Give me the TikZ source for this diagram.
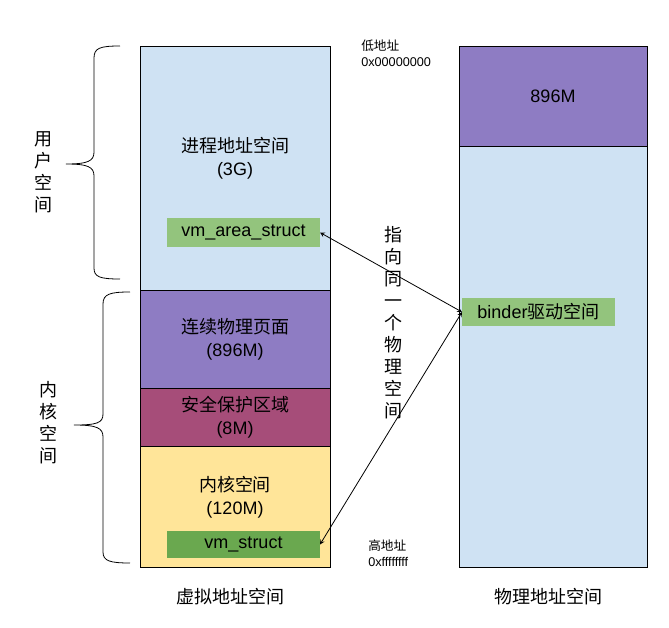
\documentclass[tikz,border=0pt]{standalone}
\usepackage{fontspec}
\setmainfont{Liberation Sans}
\newfontfamily\cjk{Noto Sans CJK SC}
\usetikzlibrary{positioning}
\definecolor{userblue}{HTML}{CFE2F3}
\definecolor{contpurple}{HTML}{8E7CC3}
\definecolor{safered}{HTML}{A64D79}
\definecolor{kernyellow}{HTML}{FFE599}
\definecolor{lightgreen}{HTML}{93C47D}
\definecolor{darkgreen}{HTML}{6AA84F}

\begin{document}
\begin{tikzpicture}[x=0.75pt, y=-0.75pt,
	font=\fontsize{13.5}{17}\selectfont,
	block/.style={draw, rectangle, outer sep=0pt, inner sep=0pt, minimum width=142.5pt, align=center},
	gbox/.style={rectangle, outer sep=0pt, inner sep=0pt, minimum width=114.75pt, minimum height=21.75pt},
	addr/.style={anchor=north west, align=left, inner sep=0pt, font=\fontsize{9.5}{12}\selectfont},
	vtext/.style={align=center, inner sep=0pt, font=\fontsize{13.5}{16.5}\selectfont\cjk},
	bracedraw/.style={line width=0.6pt}]
	\useasboundingbox (0,0) rectangle (669,628);

	% virtual address space
	\node (user) [block, fill=userblue, minimum height=183pt] at (235,168) {};
	\node (cont) [block, fill=contpurple, minimum height=73.5pt, below=0pt of user] {{\cjk 连续物理页面}\\(896M)};
	\node (safe) [block, fill=safered, minimum height=43.5pt, below=0pt of cont] {{\cjk 安全保护区域}\\(8M)};
	\node (kern) [block, fill=kernyellow, minimum height=90.75pt, below=0pt of safe] {};
	\node (proc) [align=center, inner sep=0pt] at (235,158) {{\cjk 进程地址空间}\\(3G)};
	\node (kspace) [align=center, inner sep=0pt] at (235,497) {{\cjk 内核空间}\\(120M)};
	\node (vmarea) [gbox, fill=lightgreen] at (243.5,232.5) {vm\_area\_struct};
	\node (vmstruct) [gbox, fill=darkgreen, minimum height=20.25pt] at (243.5,544.5) {vm\_struct};

	% physical address space
	\node (phys) [block, fill=contpurple, minimum width=141pt, minimum height=75pt] at (553,96) {896M};
	\node (physrest) [block, fill=userblue, minimum width=141pt, minimum height=315.75pt, below=0pt of phys] {};
	\node (binder) [gbox, fill=lightgreen, minimum height=21pt] at (538.5,312) {binder{\cjk 驱动空间}};

	% labels
	\node (low) [addr] at (361,40) {{\cjk 低地址}\\0x00000000};
	\node (high) [addr] at (368,540) {{\cjk 高地址}\\0xffffffff};
	\node (same) [vtext] at (393,323) {指\\向\\同\\一\\个\\物\\理\\空\\间};
	\node (uspace) [vtext] at (44,172) {用\\户\\空\\间};
	\node (kspc) [vtext] at (49,423) {内\\核\\空\\间};
	\node (vlabel) [font=\fontsize{13.5}{17}\selectfont\cjk] at (230,597) {虚拟地址空间};
	\node (plabel) [font=\fontsize{13.5}{17}\selectfont\cjk] at (548,597) {物理地址空间};

	% braces
	\draw [bracedraw] (120,46) .. controls (100,46) and (94,48) .. (94,58) -- (94,152)
		.. controls (94,161) and (88,164) .. (66,164) .. controls (88,164) and (94,167) .. (94,176)
		-- (94,268) .. controls (94,277) and (100,279) .. (120,279);
	\draw [bracedraw] (130,292) .. controls (110,292) and (103,294) .. (103,304) -- (103,414)
		.. controls (103,423) and (97,425) .. (74,425) .. controls (97,425) and (103,428) .. (103,437)
		-- (103,552) .. controls (103,561) and (110,563) .. (130,563);

	\draw [line width=0.6pt, <->, >=stealth] (vmarea.east) -- (binder.west);
	\draw [line width=0.6pt, <->, >=stealth] (binder.west) -- (vmstruct.east);
\end{tikzpicture}
\end{document}
